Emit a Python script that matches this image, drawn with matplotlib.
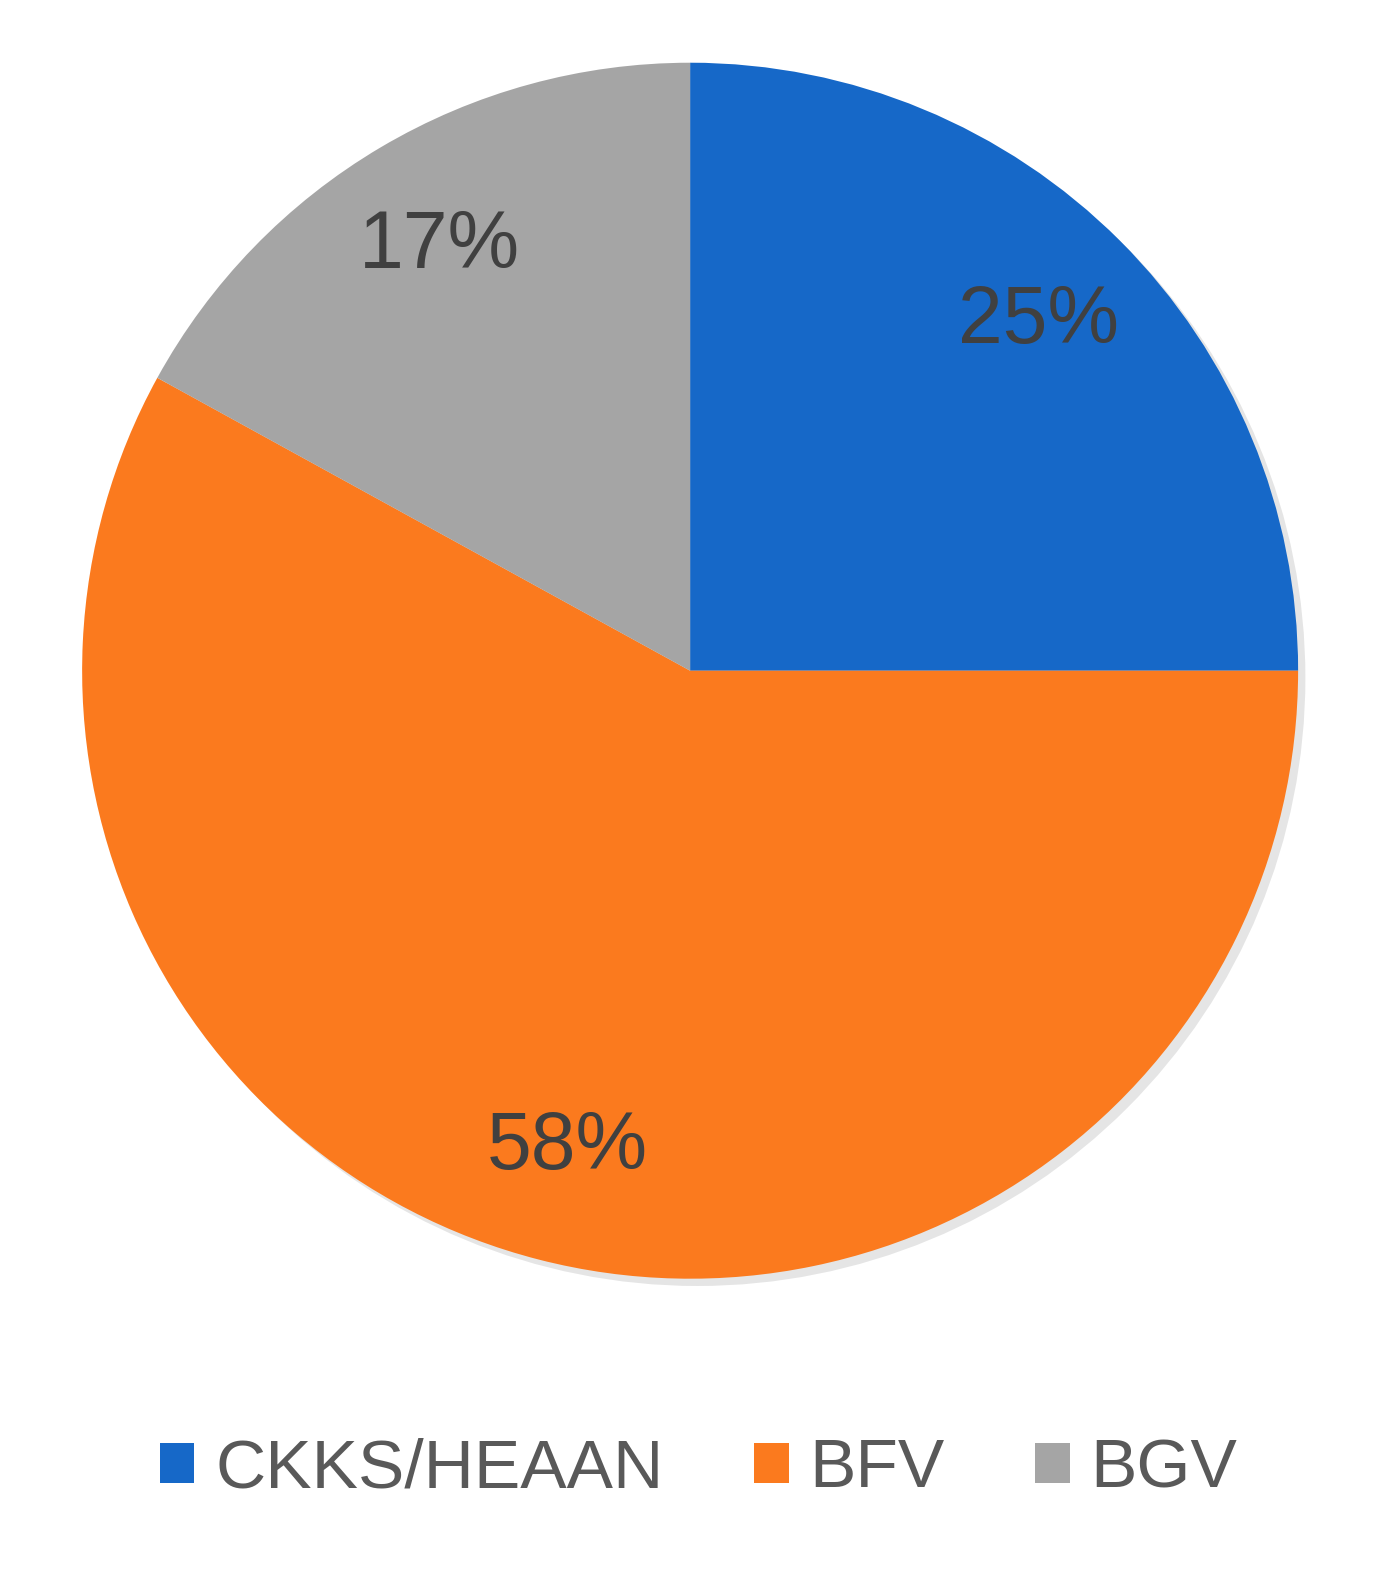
import matplotlib.pyplot as plt
from matplotlib.patches import Patch, Circle
import matplotlib.patheffects as pe

# slice data, clockwise from 12 o'clock
schemes = ["CKKS/HEAAN", "BFV", "BGV"]
shares = [25, 58, 17]
colours = ["#1668c8", "#fb7a1e", "#a5a5a5"]

fig = plt.figure(figsize=(13.97, 15.80), dpi=100)
ax = fig.add_axes([0.050, 0.183, 0.888, 0.785])

# soft drop shadow behind the whole pie
shadow = Circle((0.012, -0.012), 1.0, facecolor="#000000", alpha=0.12, linewidth=0,
                path_effects=[pe.SimplePatchShadow(offset=(0, 0), alpha=0.1)])
ax.add_patch(shadow)

wedges, texts, autotexts = ax.pie(
    shares, colors=colours, startangle=90, counterclock=False,
    autopct="%d%%", pctdistance=0.81,
    wedgeprops=dict(linewidth=0),
    textprops=dict(fontsize=58, color="#404040", family="Liberation Sans"))
ax.set_xlim(-1.02, 1.02)
ax.set_ylim(-1.02, 1.02)
ax.set_aspect("equal")

handles = [Patch(facecolor=c, label=s) for s, c in zip(schemes, colours)]
fig.legend(handles=handles, loc="center", bbox_to_anchor=(0.5, 0.07), ncol=3,
           frameon=False, handlelength=0.5, handleheight=0.5,
           handletextpad=0.3, columnspacing=1.3,
           prop=dict(family="Liberation Sans", size=50), labelcolor="#595959")

fig.savefig("out.png", dpi=100)
